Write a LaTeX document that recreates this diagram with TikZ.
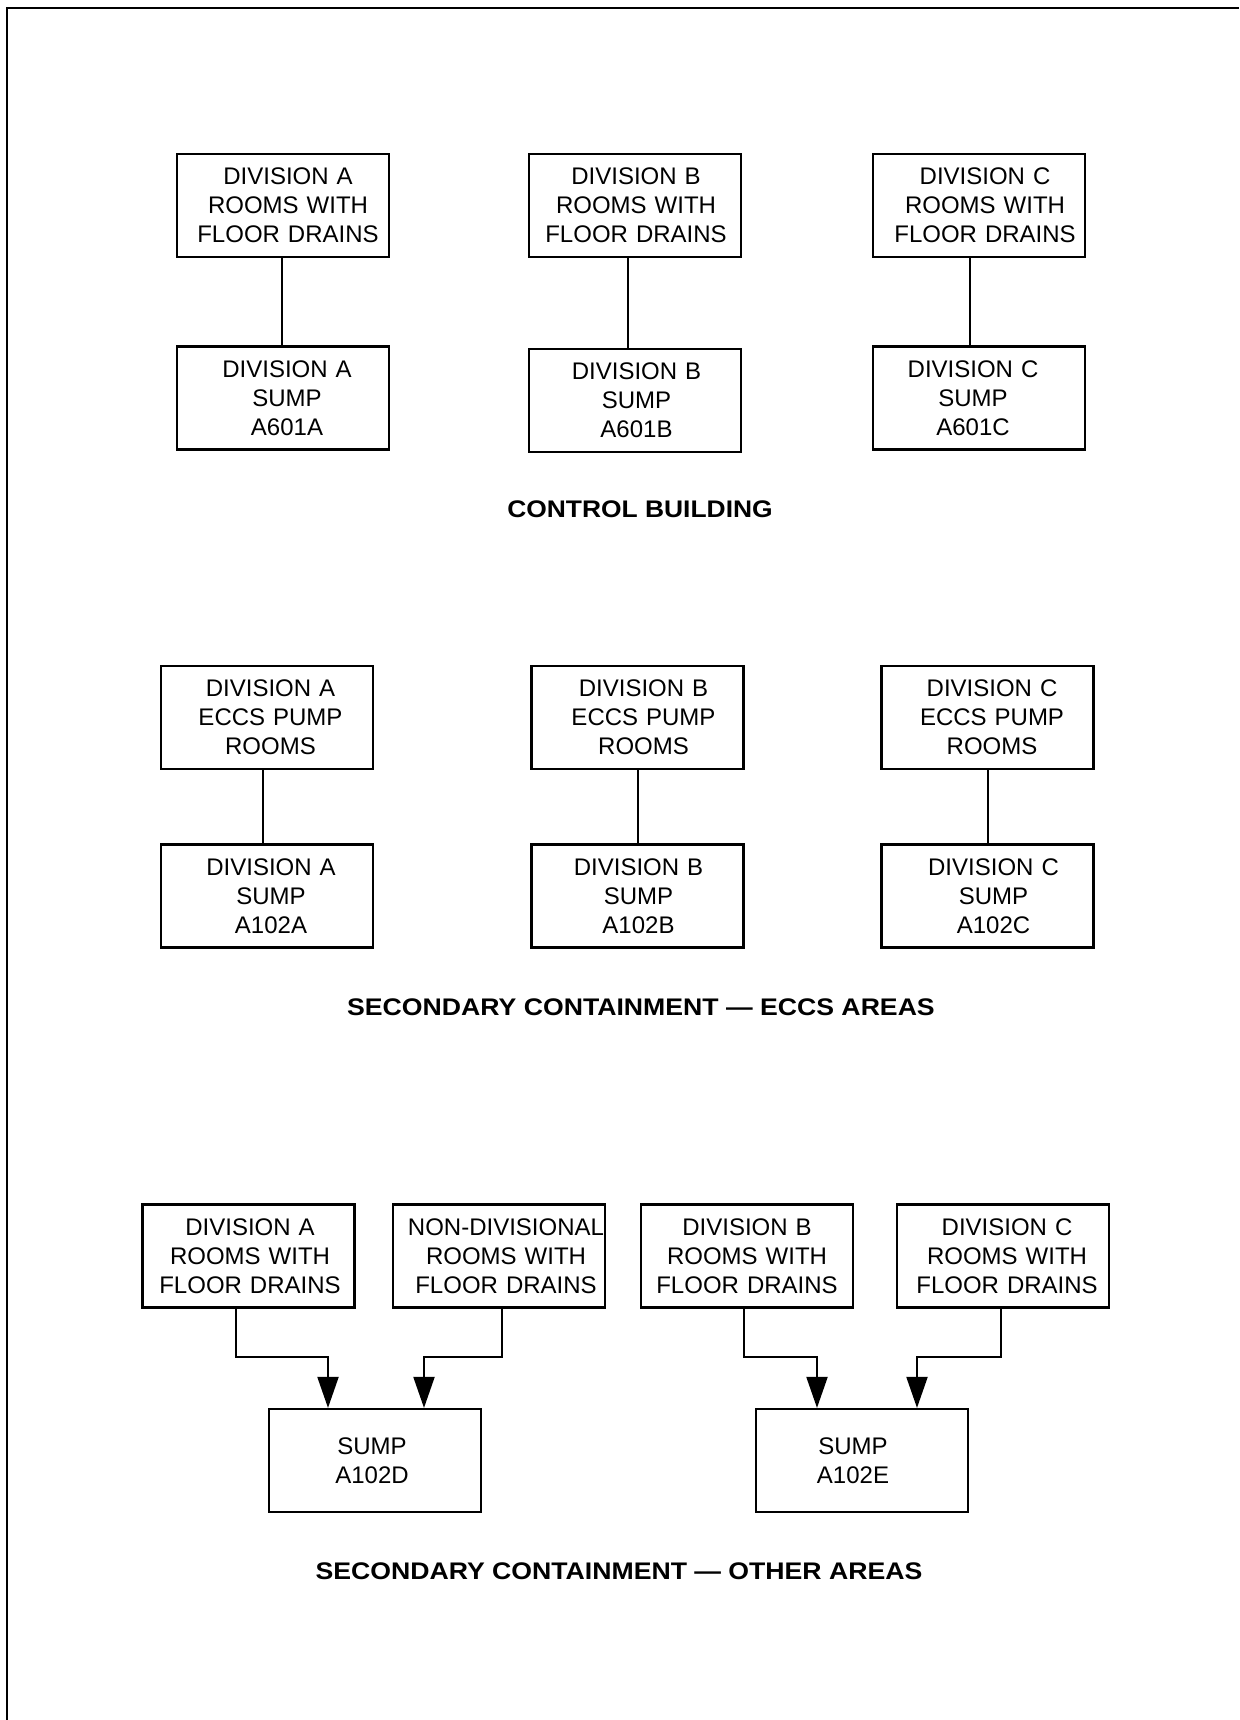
\documentclass[tikz,border=0pt]{standalone}
\usepackage{graphicx}
\usepackage{fontspec}
\setmainfont{Liberation Sans}
\usetikzlibrary{arrows.meta}
\begin{document}
\begin{tikzpicture}[x=1pt,y=-1pt,
  box/.style={draw,line width=2.2pt,minimum width=212pt,minimum height=103pt,inner sep=0pt,text width=212pt,align=center,font=\fontsize{24}{29}\selectfont},
  tx/.style={execute at begin node={\leftskip=#1 plus 1fil\rightskip=0pt plus 1fil\parfillskip=0pt\relax}},
  ttl/.style={anchor=base,inner sep=0pt,font=\fontsize{24}{29}\selectfont\bfseries},
  link/.style={line width=2pt},
  flow/.style={line width=2pt,-{Triangle[length=31pt,width=21pt]}}]
\useasboundingbox (0,0) rectangle (1239,1720);
% frame
\draw[line width=2.5pt] (7,1720) -- (7,8) -- (1239,8);

% ---- Control building ----
\node[box,tx=10pt] (cA) at (283,205.5) {DIVISION A\\ROOMS WITH\\FLOOR DRAINS};
\node[box,tx=2pt] (cB) at (635,205.5) {DIVISION B\\ROOMS WITH\\FLOOR DRAINS};
\node[box,tx=12pt] (cC) at (979,205.5) {DIVISION C\\ROOMS WITH\\FLOOR DRAINS};
\node[box,tx=8pt] (sA) at (283,398) {DIVISION A\\SUMP\\A601A};
\node[box,tx=3pt] (sB) at (635,400.5) {DIVISION B\\SUMP\\A601B};
\node[box,tx=-12pt] (sC) at (979,398) {DIVISION C\\SUMP\\A601C};
\draw[link] ([xshift=-1pt]cA.south) -- ([xshift=-1pt]sA.north);
\draw[link] ([xshift=-7pt]cB.south) -- ([xshift=-7pt]sB.north);
\draw[link] ([xshift=-9pt]cC.south) -- ([xshift=-9pt]sC.north);
\node[ttl] (t1) at (640,517) {\scalebox{1.1}[1]{CONTROL BUILDING}};

% ---- Secondary containment - ECCS ----
\node[box,tx=7pt] (eA) at (267,717.5) {DIVISION A\\ECCS PUMP\\ROOMS};
\node[box,tx=12pt] (eB) at (637.5,717.5) {DIVISION B\\ECCS PUMP\\ROOMS};
\node[box,tx=9pt] (eC) at (987.5,717.5) {DIVISION C\\ECCS PUMP\\ROOMS};
\node[box,tx=8pt] (pA) at (267,896) {DIVISION A\\SUMP\\A102A};
\node[box,tx=2pt] (pB) at (637.5,896) {DIVISION B\\SUMP\\A102B};
\node[box,tx=12pt] (pC) at (987.5,896) {DIVISION C\\SUMP\\A102C};
\draw[link] ([xshift=-4pt]eA.south) -- ([xshift=-4pt]pA.north);
\draw[link] (eB.south) -- (pB.north);
\draw[link] (eC.south) -- (pC.north);
\node[ttl] (t2) at (641,1015) {\scalebox{1.11}[1]{SECONDARY CONTAINMENT — ECCS AREAS}};

% ---- Secondary containment - other areas ----
\node[box,tx=3pt] (oA) at (248.5,1256) {DIVISION A\\ROOMS WITH\\FLOOR DRAINS};
\node[box,tx=14pt] (oN) at (499,1256) {NON-DIVISIONAL\\ROOMS WITH\\FLOOR DRAINS};
\node[box,tx=0pt] (oB) at (747,1256) {DIVISION B\\ROOMS WITH\\FLOOR DRAINS};
\node[box,tx=8pt] (oC) at (1003,1256) {DIVISION C\\ROOMS WITH\\FLOOR DRAINS};
\node[box,tx=-6pt] (sD) at (375,1460.5) {SUMP\\A102D};
\node[box,tx=-18pt] (sE) at (862,1460.5) {SUMP\\A102E};
\coordinate (jA) at (328,1357);
\coordinate (jN) at (424,1357);
\coordinate (jB) at (817,1357);
\coordinate (jC) at (917,1357);
\draw[flow] ([xshift=-12.5pt]oA.south) |- (jA) -- (jA |- sD.north);
\draw[flow] ([xshift=3pt]oN.south) |- (jN) -- (jN |- sD.north);
\draw[flow] ([xshift=-3pt]oB.south) |- (jB) -- (jB |- sE.north);
\draw[flow] ([xshift=-2pt]oC.south) |- (jC) -- (jC |- sE.north);
\node[ttl] (t3) at (619,1579) {\scalebox{1.11}[1]{SECONDARY CONTAINMENT — OTHER AREAS}};
\end{tikzpicture}
\end{document}
